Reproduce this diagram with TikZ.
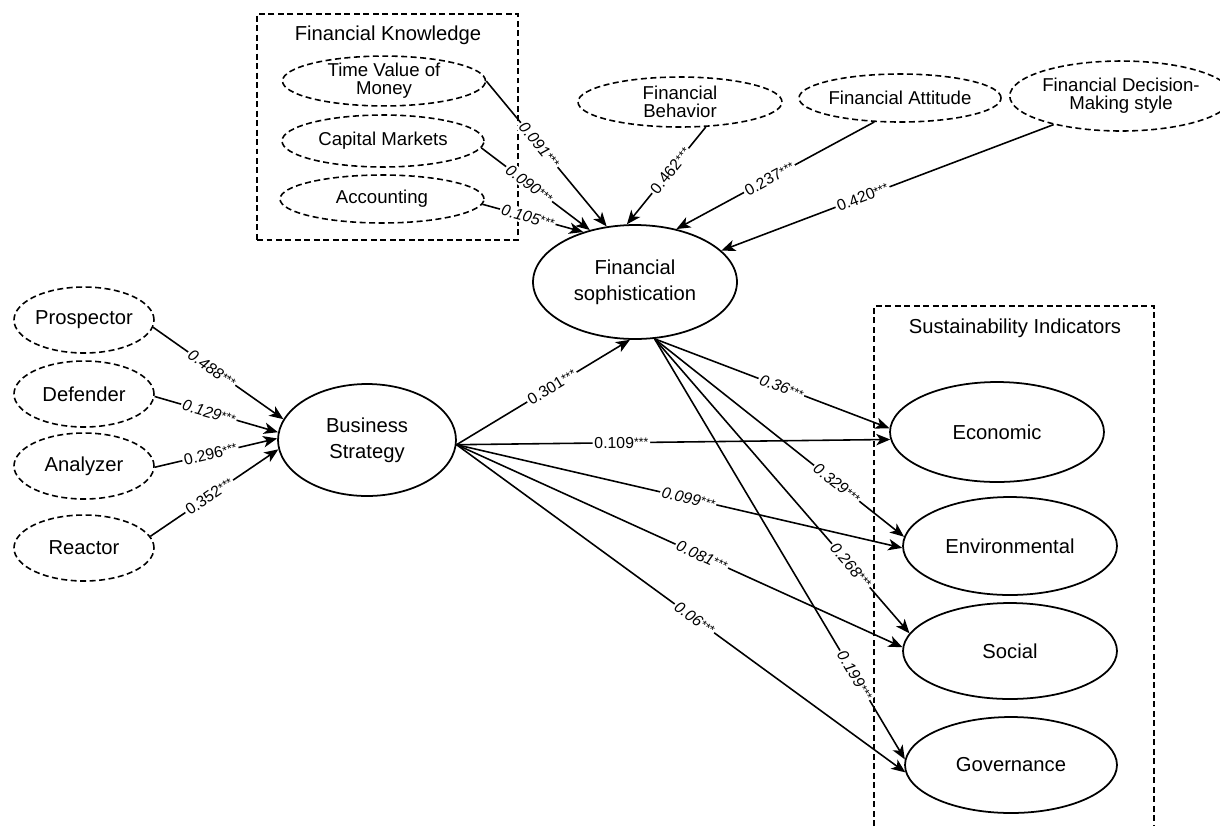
\documentclass[tikz,border=0pt]{standalone}
\usepackage{fontspec}
\setmainfont{Liberation Sans}
\usetikzlibrary{arrows.meta,shapes.geometric}
\newcommand{\sigstars}{\raisebox{0.9pt}{\fontsize{7}{7}\selectfont ***}}
\tikzset{
  lat/.style={ellipse, draw, line width=1pt, inner sep=0pt, align=center,
    font=\fontsize{11.5}{15}\selectfont},
  ind/.style={ellipse, draw, line width=0.9pt, dash pattern=on 3.4pt off 2pt,
    inner sep=0pt, align=center, font=\fontsize{10.6}{10.2}\selectfont},
  indbig/.style={ind, font=\fontsize{11.5}{12}\selectfont},
  frame/.style={draw, line width=0.9pt, dash pattern=on 3.4pt off 2pt},
  ttl/.style={inner sep=0pt, font=\fontsize{11.5}{12}\selectfont},
  link/.style={line width=0.9pt, -{Stealth[length=8pt,width=6.5pt,inset=2.2pt]}},
  coef/.style={sloped, fill=white, inner sep=1pt, font=\fontsize{9}{9}\selectfont},
  coefi/.style={coef, font=\fontsize{9}{9}\selectfont\itshape},
}
\begin{document}
\begin{tikzpicture}[x=0.02cm,y=-0.02cm]
\useasboundingbox (0,0) rectangle (1220,826);

% frames
\node[frame, minimum width=5.22cm, minimum height=4.52cm] (fkbox) at (387.5,127) {};
\node[ttl] (fktitle) at (388,35) {Financial Knowledge};
\coordinate (sia) at (874,826);
\coordinate (sib) at (874,306);
\coordinate (sic) at (1154,306);
\coordinate (sid) at (1154,826);
\draw[frame] (sia) -- (sib) -- (sic) -- (sid);
\node[ttl] (sititle) at (1015,328) {Sustainability Indicators};

% indicator ellipses
\node[ind, minimum width=4.06cm, minimum height=0.96cm] (tvm) at (384,81) {Time Value of\\Money};
\node[ind, minimum width=4.04cm, minimum height=1.04cm] (cm) at (383,141) {Capital Markets};
\node[ind, minimum width=4.08cm, minimum height=0.96cm] (acc) at (382,199) {Accounting};
\node[ind, minimum width=4.08cm, minimum height=1.0cm] (beh) at (680,102) {Financial\\Behavior};
\node[ind, minimum width=4.0cm, minimum height=0.96cm] (att) at (900,98) {Financial Attitude};
\node[ind, minimum width=3.92cm, minimum height=1.4cm] (dec) at (1121,96) {Financial Decision-\\Making style};

\node[indbig, minimum width=2.8cm, minimum height=1.32cm] (pro) at (84,320) {Prospector};
\node[indbig, minimum width=2.8cm, minimum height=1.32cm] (def) at (84,394) {Defender};
\node[indbig, minimum width=2.8cm, minimum height=1.32cm] (ana) at (84,466) {Analyzer};
\node[indbig, minimum width=2.8cm, minimum height=1.32cm] (rea) at (84,548) {Reactor};

% latent ellipses
\node[lat, minimum width=4.08cm, minimum height=2.28cm] (fs) at (635,282) {Financial\\sophistication};
\node[lat, minimum width=3.56cm, minimum height=2.24cm] (bs) at (367,440) {Business\\Strategy};
\node[lat, minimum width=4.28cm, minimum height=2.0cm] (eco) at (997,432) {Economic};
\node[lat, minimum width=4.28cm, minimum height=1.96cm] (env) at (1010,546) {Environmental};
\node[lat, minimum width=4.28cm, minimum height=1.92cm] (soc) at (1010,651) {Social};
\node[lat, minimum width=4.24cm, minimum height=1.92cm] (gov) at (1011,765) {Governance};

% financial knowledge -> FS
\draw[link] (tvm.0) -- node[coefi,pos=0.44]{0.091\sigstars} (fs.117);
\draw[link] (cm.-4) -- node[coefi,pos=0.44]{0.090\sigstars} (fs.131);
\draw[link] (acc.-3) -- node[coefi,pos=0.45]{0.105\sigstars} (fs.136);
\draw[link] (beh.-44) -- node[coef,pos=0.45]{0.462\sigstars} (fs.98);
\draw[link] (att.-137) -- node[coef,pos=0.53]{0.237\sigstars} (fs.52);
\draw[link] (dec.-157) -- node[coef,pos=0.575]{0.420\sigstars} (fs.20);

% strategy types -> BS
\draw[link] (pro.-6) -- node[coefi,pos=0.45]{0.488\sigstars} (bs.166);
\draw[link] (def.-2) -- node[coefi,pos=0.44]{0.129\sigstars} (bs.175);
\draw[link] (ana.-1) -- node[coef,pos=0.455]{0.296\sigstars} (bs.179);
\draw[link] (rea.10) -- node[coef,pos=0.46]{0.352\sigstars} (bs.186);

% BS -> outcomes
\draw[link] (bs.-3) -- node[coef,pos=0.55]{0.301\sigstars} (fs.265);
\draw[link] (bs.-3) -- node[coef,pos=0.38]{0.109\sigstars} (eco.184);
\draw[link] (bs.-3) -- node[coefi,pos=0.52]{0.099\sigstars} (env.181);
\draw[link] (bs.-3) -- node[coefi,pos=0.55]{0.081\sigstars} (soc.178.5);
\draw[link] (bs.-3) -- node[coefi,pos=0.53]{0.06\sigstars} (gov.184);

% FS -> outcomes
\draw[link] (fs.-71) -- node[coefi,pos=0.54]{0.36\sigstars} (eco.178);
\draw[link] (fs.-71) -- node[coefi,pos=0.73]{0.329\sigstars} (env.175);
\draw[link] (fs.-71) -- node[coefi,pos=0.77]{0.268\sigstars} (soc.170.5);
\draw[link] (fs.-71) -- node[coefi,pos=0.80]{0.199\sigstars} (gov.177.5);
\end{tikzpicture}
\end{document}
